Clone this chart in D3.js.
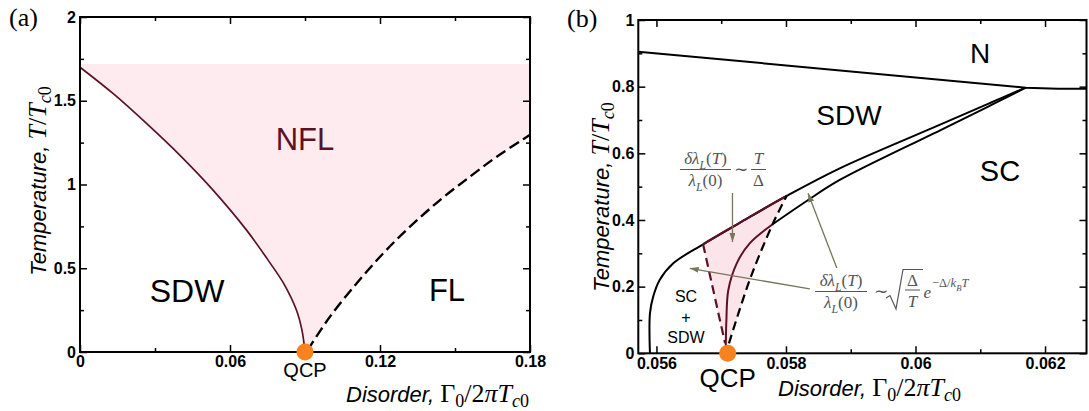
<!DOCTYPE html>
<html>
<head>
<meta charset="utf-8">
<script src="https://cdn.jsdelivr.net/npm/d3@7"></script>
<style>
  body { margin: 0; background: #fff; }
  svg { display: block; }
  text { white-space: pre; }
  .sans { font-family: "Liberation Sans", Arial, sans-serif; }
  .math { font-family: "Liberation Serif", "Times New Roman", serif; }
</style>
</head>
<body>
<script>
var width = 1089;
var height = 411;

// ---- panel (a) : whole disorder range
var aXTicks = [0, 0.06, 0.12, 0.18];
var aXMinor = [0.03, 0.09, 0.15];
var aYTicks = [0, 0.5, 1, 1.5, 2];
var aYMinor = [0.25, 0.75, 1.25, 1.75];
var aShadeTop = 1.72;
var aQcp = [0.09, 0];
// SDW -> NFL boundary (solid line)
var aSdwLine = [[0, 1.70], [0.0133, 1.542], [0.0267, 1.363], [0.04, 1.174], [0.0533, 0.965],
  [0.0667, 0.726], [0.0753, 0.547], [0.0815, 0.408], [0.0866, 0.249], [0.0888, 0.129], [0.09, 0]];
// NFL -> FL crossover (dashed line)
var aFlLine = [[0.091, 0.01], [0.1, 0.211], [0.1107, 0.41], [0.1213, 0.589], [0.132, 0.748],
  [0.144, 0.907], [0.156, 1.047], [0.1667, 1.166], [0.1773, 1.27], [0.18, 1.297]];

// ---- panel (b) : zoom near the QCP
var bXTicks = [0.056, 0.058, 0.06, 0.062];
var bXMinor = [0.057, 0.059, 0.061];
var bYTicks = [0, 0.2, 0.4, 0.6, 0.8, 1];
var bYMinor = [0.1, 0.3, 0.5, 0.7, 0.9];
var bQcp = [0.0571, 0];
var bNLine = [[0.05572, 0.905], [0.0617, 0.797], [0.0622, 0.794], [0.06264, 0.794]];
var bSdwLine = [[0.0559, 0], [0.0559, 0.12], [0.05595, 0.17], [0.05605, 0.22], [0.05626, 0.27],
  [0.05672, 0.327], [0.05729, 0.392], [0.05801, 0.472], [0.05883, 0.555], [0.06038, 0.686],
  [0.06115, 0.751], [0.0617, 0.797]];
var bScLine = [[0.0578, 0.388], [0.05832, 0.457], [0.05883, 0.52], [0.06038, 0.669],
  [0.06115, 0.743], [0.0617, 0.797]];
var bInnerLine = [[0.05707, 0], [0.05708, 0.1], [0.05711, 0.19], [0.05724, 0.27],
  [0.05744, 0.33], [0.0578, 0.388]];
var bLeftDash = [[0.05672, 0.327], [0.05706, 0.03]];
var bRightDash = [[0.05712, 0.03], [0.05744, 0.22], [0.0578, 0.39], [0.05801, 0.472]];

var pink = "#fdebef", maroon = "#5c1226", orange = "#f7821f", arrowCol = "#77755a", mathCol = "#555";

var svg = d3.select("body").append("svg")
    .attr("width", width)
    .attr("height", height);

var xa = d3.scaleLinear().domain([0, 0.18]).range([80, 530]);
var ya = d3.scaleLinear().domain([0, 2]).range([352, 17]);
var xb = d3.scaleLinear().domain([0.05572, 0.06264]).range([638.3, 1086.5]);
var yb = d3.scaleLinear().domain([0, 1]).range([353.3, 20]);

var defs = svg.append("defs");
defs.append("marker")
    .attr("id", "ah")
    .attr("viewBox", "0 -3 9 6")
    .attr("refX", 9).attr("refY", 0)
    .attr("markerWidth", 9).attr("markerHeight", 6)
    .attr("markerUnits", "userSpaceOnUse")
    .attr("orient", "auto")
  .append("path")
    .attr("d", "M0,-3L9,0L0,3Z")
    .attr("fill", arrowCol);

function lineOf(x, y, curve) {
  return d3.line()
    .x(function(d) { return x(d[0]); })
    .y(function(d) { return y(d[1]); })
    .curve(curve || d3.curveCatmullRom.alpha(0.5));
}

// frame + inward ticks on all four sides
function drawAxes(x, y, xt, xm, yt, ym, pad) {
  var x0 = x.range()[0], x1 = x.range()[1], y0 = y.range()[0], y1 = y.range()[1];
  var g = svg.append("g");
  function put(axis, tx, ty, labels) {
    var a = g.append("g").attr("transform", "translate(" + tx + "," + ty + ")").call(axis);
    a.select(".domain").remove();
    a.selectAll("line").attr("stroke", "#000").attr("stroke-width", 1.5);
    a.selectAll("text")
      .attr("class", "sans")
      .attr("font-size", 16)
      .attr("font-weight", "bold")
      .attr("fill", "#000");
    if (!labels) a.selectAll("text").remove();
  }
  put(d3.axisBottom(x).tickValues(xt).tickSize(-7).tickPadding(pad).tickFormat(String), 0, y0, true);
  put(d3.axisBottom(x).tickValues(xm).tickSize(-4), 0, y0, false);
  put(d3.axisTop(x).tickValues(xt).tickSize(-7), 0, y1, false);
  put(d3.axisTop(x).tickValues(xm).tickSize(-4), 0, y1, false);
  put(d3.axisLeft(y).tickValues(yt).tickSize(-7).tickPadding(pad).tickFormat(String), x0, 0, true);
  put(d3.axisLeft(y).tickValues(ym).tickSize(-4), x0, 0, false);
  put(d3.axisRight(y).tickValues(yt).tickSize(-7), x1, 0, false);
  put(d3.axisRight(y).tickValues(ym).tickSize(-4), x1, 0, false);
  g.append("rect")
    .attr("x", x0).attr("y", y1)
    .attr("width", x1 - x0).attr("height", y0 - y1)
    .attr("fill", "none").attr("stroke", "#000").attr("stroke-width", 2);
}

function sansText(x, y, str, size, col, anchor) {
  return svg.append("text")
    .attr("class", "sans")
    .attr("x", x).attr("y", y)
    .attr("font-size", size)
    .attr("fill", col || "#000")
    .attr("text-anchor", anchor || "middle")
    .text(str);
}

// rich math text: parts = [text, mode], mode r = roman, i = italic, sub = subscript
function rich(parent, x, y, parts, size, anchor, col) {
  var t = parent.append("text")
    .attr("class", "math")
    .attr("x", x).attr("y", y)
    .attr("font-size", size)
    .attr("fill", col || mathCol)
    .attr("text-anchor", anchor || "start");
  var shift = 0;
  parts.forEach(function(p) {
    var s = t.append("tspan").text(p[0]);
    var want = p[1] === "sub" ? size * 0.3 : 0;
    if (want - shift !== 0) s.attr("dy", want - shift);
    shift = want;
    if (p[1] === "sub") s.attr("font-size", size * 0.7);
    s.attr("font-style", p[1] === "r" ? "normal" : "italic");
  });
  return t;
}

function xLabel(x, y) {
  var t = svg.append("text").attr("x", x).attr("y", y).attr("fill", "#000");
  t.append("tspan").attr("class", "sans").attr("font-style", "italic").attr("font-size", 22).text("Disorder, ");
  var m = [["Γ", "r", 0], ["0", "r", 5], ["/2", "r", -5], ["π", "i", 0], ["T", "i", 0], ["c", "i", 5], ["0", "r", 0]];
  m.forEach(function(p, i) {
    var s = t.append("tspan").attr("class", "math").attr("font-size", (p[2] > 0 || i === 6) ? 18 : 26)
      .attr("font-style", p[1] === "i" ? "italic" : "normal").text(p[0]);
    if (p[2]) s.attr("dy", p[2]);
  });
}

function yLabel(cx, cy) {
  var t = svg.append("text")
    .attr("transform", "translate(" + cx + "," + cy + ") rotate(-90)")
    .attr("text-anchor", "middle").attr("fill", "#000");
  t.append("tspan").attr("class", "sans").attr("font-style", "italic").attr("font-size", 22).text("Temperature, ");
  var m = [["T", "i", 0, 26], ["/", "r", 0, 26], ["T", "i", 0, 26], ["c", "i", 5, 18], ["0", "r", 0, 18]];
  m.forEach(function(p) {
    var s = t.append("tspan").attr("class", "math").attr("font-size", p[3])
      .attr("font-style", p[1] === "i" ? "italic" : "normal").text(p[0]);
    if (p[2]) s.attr("dy", p[2]);
  });
}

// =================== panel (a)
var aFill = [[0, aShadeTop], [0.18, aShadeTop]]
  .concat(aFlLine.slice().reverse())
  .concat(aSdwLine.slice().reverse());
svg.append("path")
    .attr("d", lineOf(xa, ya, d3.curveLinear)(aFill) + "Z")
    .attr("fill", pink);

svg.append("path")
    .attr("d", lineOf(xa, ya)(aSdwLine))
    .attr("fill", "none").attr("stroke", maroon).attr("stroke-width", 1.7);
svg.append("path")
    .attr("d", lineOf(xa, ya)(aFlLine))
    .attr("fill", "none").attr("stroke", "#000").attr("stroke-width", 2.4)
    .attr("stroke-dasharray", "11,5");

drawAxes(xa, ya, aXTicks, aXMinor, aYTicks, aYMinor, 4);

svg.append("circle")
    .attr("cx", xa(aQcp[0])).attr("cy", ya(aQcp[1])).attr("r", 8.5)
    .attr("fill", orange);

sansText(305, 150, "NFL", 31, maroon);
sansText(187, 302, "SDW", 32);
sansText(447, 301, "FL", 31);
sansText(xa(aQcp[0]), 377, "QCP", 20);
xLabel(346, 402);
yLabel(46, 181);
svg.append("text").attr("class", "math").attr("x", 9).attr("y", 26)
    .attr("font-size", 26).text("(a)");

// =================== panel (b)
var bTop = bSdwLine.filter(function(d) { return d[0] > bLeftDash[0][0] && d[0] < bRightDash[bRightDash.length - 1][0]; });
var bFill = [bLeftDash[0]].concat(bTop).concat(bRightDash.slice().reverse()).concat([bLeftDash[1]]);
svg.append("path")
    .attr("d", lineOf(xb, yb, d3.curveLinear)(bFill) + "Z")
    .attr("fill", "#fce5ea");

defs.append("clipPath").attr("id", "topSeg")
  .append("rect")
    .attr("x", xb(bLeftDash[0][0])).attr("y", 0)
    .attr("width", xb(bRightDash[bRightDash.length - 1][0]) - xb(bLeftDash[0][0]))
    .attr("height", height);

svg.append("path")
    .attr("d", lineOf(xb, yb, d3.curveLinear)(bNLine))
    .attr("fill", "none").attr("stroke", "#000").attr("stroke-width", 2);
svg.append("path")
    .attr("d", lineOf(xb, yb)(bSdwLine))
    .attr("fill", "none").attr("stroke", "#000").attr("stroke-width", 2);
svg.append("path")
    .attr("d", lineOf(xb, yb)(bSdwLine))
    .attr("clip-path", "url(#topSeg)")
    .attr("fill", "none").attr("stroke", maroon).attr("stroke-width", 2.2);
svg.append("path")
    .attr("d", lineOf(xb, yb)(bScLine))
    .attr("fill", "none").attr("stroke", "#000").attr("stroke-width", 2);
svg.append("path")
    .attr("d", lineOf(xb, yb)(bInnerLine))
    .attr("fill", "none").attr("stroke", maroon).attr("stroke-width", 2);
svg.append("path")
    .attr("d", lineOf(xb, yb, d3.curveLinear)(bLeftDash))
    .attr("fill", "none").attr("stroke", maroon).attr("stroke-width", 2.2)
    .attr("stroke-dasharray", "9,5");
svg.append("path")
    .attr("d", lineOf(xb, yb)(bRightDash))
    .attr("fill", "none").attr("stroke", "#000").attr("stroke-width", 2.2)
    .attr("stroke-dasharray", "9,5");

drawAxes(xb, yb, bXTicks, bXMinor, bYTicks, bYMinor, 4);

// annotation arrows (tail -> head)
var arrows = [
  [[0.057174, 0.481], [0.057174, 0.334]],
  [[0.058368, 0.193], [0.056514, 0.255]],
  [[0.058785, 0.256], [0.058341, 0.48]]
];
arrows.forEach(function(a) {
  svg.append("line")
    .attr("x1", xb(a[0][0])).attr("y1", yb(a[0][1]))
    .attr("x2", xb(a[1][0])).attr("y2", yb(a[1][1]))
    .attr("stroke", arrowCol).attr("stroke-width", 1.3)
    .attr("marker-end", "url(#ah)");
});

svg.append("circle")
    .attr("cx", xb(bQcp[0])).attr("cy", yb(bQcp[1])).attr("r", 8.5)
    .attr("fill", orange);

// formula 1 : dl/l ~ T/D
var f = svg.append("g");
function bar(x1, x2, y) {
  f.append("line").attr("x1", x1).attr("x2", x2).attr("y1", y).attr("y2", y)
    .attr("stroke", mathCol).attr("stroke-width", 1);
}
var numParts = [["δλ", "i"], ["L", "sub"], ["(", "r"], ["T", "i"], [")", "r"]];
var denParts = [["λ", "i"], ["L", "sub"], ["(0)", "r"]];
bar(680, 731, 169.5);
rich(f, 705.5, 164, numParts, 17, "middle");
rich(f, 705.5, 186, denParts, 17, "middle");
rich(f, 741, 175, [["∼", "r"]], 17, "middle");
bar(751, 766, 169.5);
rich(f, 758.5, 164, [["T", "i"]], 17, "middle");
rich(f, 758.5, 186, [["Δ", "r"]], 17, "middle");

// formula 2 : dl/l ~ sqrt(D/T) exp(-D/kT)
bar(815, 867, 291.5);
rich(f, 841, 286, numParts, 17, "middle");
rich(f, 841, 308, denParts, 17, "middle");
rich(f, 880.5, 297, [["∼", "r"]], 17, "middle");
f.append("path")
    .attr("d", "M886,298L890,295.5L896,309L903,269.5L923,269.5")
    .attr("fill", "none").attr("stroke", mathCol).attr("stroke-width", 1.2);
bar(905, 920, 290);
rich(f, 912.5, 286, [["Δ", "r"]], 17, "middle");
rich(f, 912.5, 307, [["T", "i"]], 17, "middle");
rich(f, 923.5, 298, [["e", "i"]], 17, "start");
rich(f, 932, 287, [["−Δ/", "r"], ["k", "i"], ["B", "sub"], ["T", "i"]], 12.5, "start");

sansText(980, 63, "N", 28);
sansText(849, 125, "SDW", 28);
sansText(1000, 181, "SC", 29);
sansText(686, 301.5, "SC", 16);
sansText(686, 323, "+", 16);
sansText(686, 343, "SDW", 16);
sansText(xb(bQcp[0]), 387, "QCP", 26);
xLabel(778, 396);
yLabel(609, 197);
svg.append("text").attr("class", "math").attr("x", 567).attr("y", 27)
    .attr("font-size", 26).text("(b)");
</script>
</body>
</html>
